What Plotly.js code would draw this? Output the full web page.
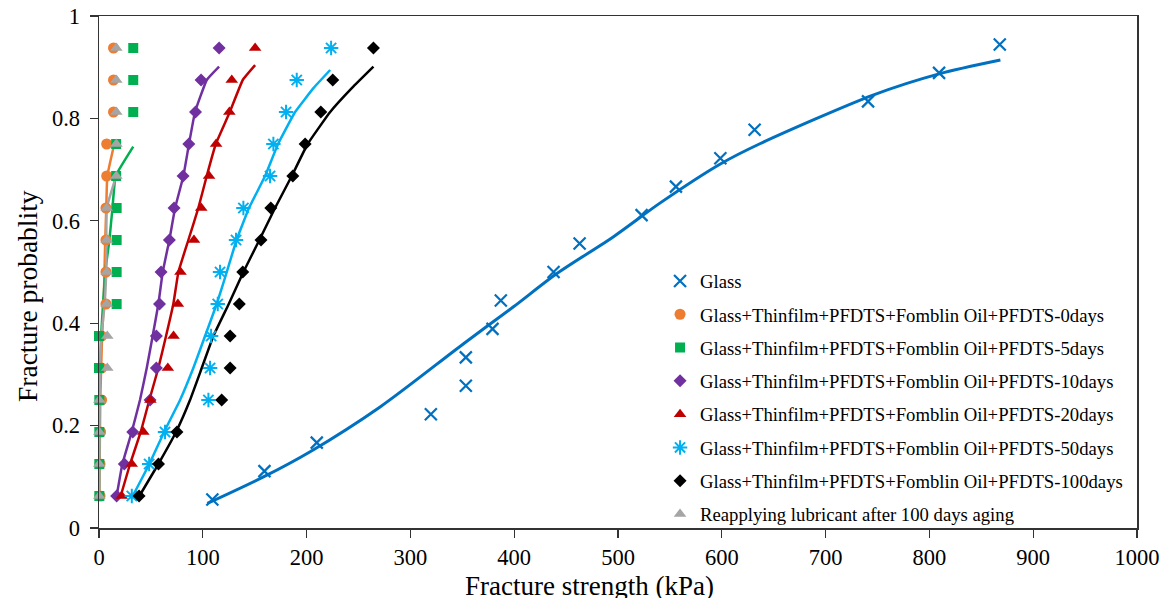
<!DOCTYPE html>
<html>
<head>
<meta charset="utf-8">
<script src="https://cdn.plot.ly/plotly-3.0.1.min.js"></script>
<style>html,body{margin:0;padding:0;background:#fff;}#chart{width:1169px;height:607px;}</style>
</head>
<body>
<div id="chart"></div>
<script>
// Probability levels
var p15 = [0.0625, 0.125, 0.1875, 0.25, 0.3125, 0.375, 0.4375, 0.5, 0.5625, 0.625, 0.6875, 0.75, 0.8125, 0.875, 0.9375];
var p17 = [0.0556, 0.1111, 0.1667, 0.2222, 0.2778, 0.3333, 0.3889, 0.4444, 0.5, 0.5556, 0.6111, 0.6667, 0.7222, 0.7778, 0.8333, 0.8889, 0.9444];

// Measured fracture strength (kPa)
var glassX = [109.2, 159.4, 209.8, 319.7, 353.4, 353.4, 379.1, 387.1, 437.9, 463, 522.7, 555.8, 598.6, 631.6, 740.9, 809.3, 867.8];
var d0X   = [1, 1, 1.5, 2.5, 2.5, 2.5, 6.7, 6.7, 6.7, 6.7, 7.4, 7.4, 14, 14, 14];
var d5X   = [0.3, 0.3, 0.3, 0.3, 0, 0, 17, 17, 17, 17, 16.5, 16.5, 33, 33, 33];
var d10X  = [17, 24.4, 32.5, 49.2, 55.3, 55.3, 58.3, 59.8, 67.8, 72.3, 81, 86.5, 93, 98.3, 115.7];
var d20X  = [21.8, 31.5, 42.7, 49.5, 66.3, 71.8, 76, 78.5, 91.5, 98.5, 106, 112.8, 125.6, 127.9, 150.4];
var d50X  = [31.6, 48.3, 63.6, 105.4, 107, 108, 114.4, 116.6, 132, 139.1, 164.8, 168, 180.2, 190.5, 223.6];
var d100X = [38.6, 57.3, 75.1, 118.2, 126.3, 126.3, 135.2, 138.5, 156.1, 165.5, 186.7, 198.6, 213.7, 225.2, 264.4];
var reX   = [0.3, 0.3, 0.3, 0.3, 8, 8, 7.4, 7.4, 7.4, 7.4, 16.7, 16.7, 16.7, 16.7, 16.7];

// Fitted curves
var glassFitX = [104.4, 158.4, 203.4, 270.8, 351.2, 399.3, 441.1, 495.7, 540.7, 598.6, 637.2, 746.3, 809.3, 868.4];
var glassFitY = [0.048, 0.0997, 0.149, 0.2365, 0.36, 0.432, 0.497, 0.569, 0.635, 0.711, 0.751, 0.846, 0.887, 0.914];
var d0FitX = [0.3, 1.2, 3, 4.5, 6, 7, 8, 14.5];
var d0FitY = [0.0625, 0.25, 0.375, 0.4375, 0.5625, 0.625, 0.6875, 0.748];
var d5FitX = [0, 0.5, 2, 6, 10, 13, 16, 33];
var d5FitY = [0.0625, 0.25, 0.375, 0.5, 0.5625, 0.625, 0.6875, 0.745];
var d10FitX = [17, 22.5, 31.5, 39.5, 46, 51.7, 57.2, 61.4, 67.8, 73.3, 81.3, 86.7, 92.5, 103.8, 115.7];
var d10FitY = [0.0625, 0.125, 0.1875, 0.25, 0.3125, 0.375, 0.4375, 0.5, 0.5625, 0.625, 0.6875, 0.75, 0.8125, 0.875, 0.901];
var d20FitX = [20.9, 29.9, 40.2, 48.5, 57.2, 64.6, 71.6, 76.5, 86.1, 95.7, 103.8, 112.5, 126, 138.5, 150.4];
var d20FitY = [0.0625, 0.125, 0.1875, 0.25, 0.3125, 0.375, 0.4375, 0.5, 0.5625, 0.625, 0.6875, 0.75, 0.8125, 0.875, 0.904];
var d50FitX = [32.5, 48.5, 62.7, 78.1, 90.9, 102.2, 113.4, 123.1, 132.5, 144.5, 160, 172.5, 188.9, 207, 222.7];
var d50FitY = [0.0625, 0.125, 0.1875, 0.25, 0.3125, 0.375, 0.4375, 0.5, 0.5625, 0.625, 0.6875, 0.75, 0.8125, 0.86, 0.8945];
var d100FitX = [38.9, 57.2, 74.2, 87.7, 99, 110.2, 125, 139.1, 154.5, 169.6, 185.7, 201, 222.7, 244, 264.4];
var d100FitY = [0.0625, 0.125, 0.1875, 0.25, 0.3125, 0.375, 0.4375, 0.5, 0.5625, 0.625, 0.6875, 0.75, 0.8125, 0.86, 0.901];
var reFitX = [0.3, 0.7, 2.3, 5.5, 7, 7.5, 17];
var reFitY = [0.0625, 0.25, 0.375, 0.4375, 0.5, 0.625, 0.69];

var names = ['Glass',
  'Glass+Thinfilm+PFDTS+Fomblin Oil+PFDTS-0days',
  'Glass+Thinfilm+PFDTS+Fomblin Oil+PFDTS-5days',
  'Glass+Thinfilm+PFDTS+Fomblin Oil+PFDTS-10days',
  'Glass+Thinfilm+PFDTS+Fomblin Oil+PFDTS-20days',
  'Glass+Thinfilm+PFDTS+Fomblin Oil+PFDTS-50days',
  'Glass+Thinfilm+PFDTS+Fomblin Oil+PFDTS-100days',
  'Reapplying lubricant after 100 days aging'];
var colors = ['#0070C0', '#ED7D31', '#00B050', '#7030A0', '#C00000', '#00B0F0', '#000000', '#A5A5A5'];
var xTitle = 'Fracture strength (kPa)';
var yTitle = 'Fracture probablity';

var series = [
  {x: glassX, y: p17, fx: glassFitX, fy: glassFitY, m: {symbol: 'x-thin-open', size: 12, line: {width: 2.2}}, lw: 3, sm: 0.8},
  {x: d0X, y: p15, fx: d0FitX, fy: d0FitY, m: {symbol: 'circle', size: 11}, lw: 2.5, sm: 0.3},
  {x: d5X, y: p15, fx: d5FitX, fy: d5FitY, m: {symbol: 'square', size: 10}, lw: 2.5, sm: 0.3},
  {x: d10X, y: p15, fx: d10FitX, fy: d10FitY, m: {symbol: 'diamond', size: 10}, lw: 2.5, sm: 0.3},
  {x: d20X, y: p15, fx: d20FitX, fy: d20FitY, m: {symbol: 'triangle-up', size: 11}, lw: 2.5, sm: 0.3},
  {x: d50X, y: p15, fx: d50FitX, fy: d50FitY, m: {symbol: 'asterisk-open', size: 12, line: {width: 2}}, lw: 2.5, sm: 0.3},
  {x: d100X, y: p15, fx: d100FitX, fy: d100FitY, m: {symbol: 'diamond', size: 10}, lw: 2.5, sm: 0.3},
  {x: reX, y: p15, fx: reFitX, fy: reFitY, m: {symbol: 'triangle-up', size: 11}, lw: 2.5, sm: 0.3}
];

var traces = [];
series.forEach(function (s, i) {
  traces.push({x: s.fx, y: s.fy, type: 'scatter', mode: 'lines', line: {color: colors[i], width: s.lw, shape: 'spline', smoothing: s.sm},
    showlegend: false, hoverinfo: 'skip', legendgroup: 'g' + i, cliponaxis: false});
});
series.forEach(function (s, i) {
  var m = Object.assign({color: colors[i]}, s.m);
  if (m.line) { m.line = Object.assign({color: colors[i]}, m.line); }
  traces.push({x: s.x, y: s.y, type: 'scatter', mode: 'markers', name: names[i], marker: m,
    legendgroup: 'g' + i, cliponaxis: false});
});

var serif = 'Liberation Serif';
var axisCommon = {
  showgrid: false, zeroline: false, showline: true, mirror: true,
  linecolor: '#333', linewidth: 1.5, ticks: 'outside', ticklen: 8, tickwidth: 1.2, tickcolor: '#333',
  tickfont: {family: serif, size: 22.5, color: '#000'}
};

var layout = {
  width: 1169, height: 607,
  margin: {l: 99, r: 32, t: 16, b: 79},
  paper_bgcolor: '#fff', plot_bgcolor: '#fff',
  font: {family: serif, color: '#000'},
  showlegend: true,
  xaxis: Object.assign({}, axisCommon, {range: [0, 1000], tick0: 0, dtick: 100}),
  yaxis: Object.assign({}, axisCommon, {range: [0, 1], tick0: 0, dtick: 0.2, ticklabelstandoff: 5}),
  legend: {x: 0.5405, y: 0.519, xanchor: 'left', yanchor: 'top', font: {family: serif, size: 18.7, color: '#000'},
    bgcolor: 'rgba(0,0,0,0)', borderwidth: 0, tracegroupgap: 6, traceorder: 'grouped'},
  annotations: [
    {text: xTitle, xref: 'paper', yref: 'paper', x: (589 - 99) / 1038, y: -(586 - 528) / 512, height: 24,
      xanchor: 'center', yanchor: 'middle', showarrow: false, font: {family: serif, size: 27, color: '#000'}},
    {text: yTitle, xref: 'paper', yref: 'paper', x: -(99 - 27) / 1038, y: (528 - 296) / 512, textangle: -90,
      xanchor: 'center', yanchor: 'middle', showarrow: false, font: {family: serif, size: 27.5, color: '#000'}}
  ]
};

Plotly.newPlot('chart', traces, layout, {displayModeBar: false, staticPlot: true});
</script>
</body>
</html>
